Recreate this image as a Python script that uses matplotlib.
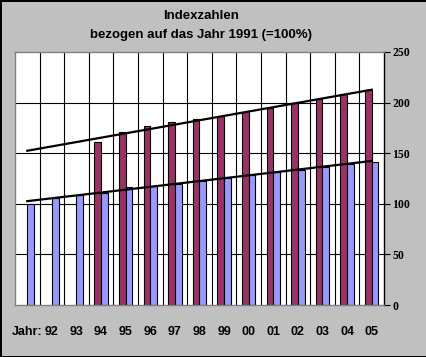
import numpy as np
import matplotlib
matplotlib.use("Agg")
import matplotlib.pyplot as plt

# Daten (1991 = 100)
jahre = ["Jahr:", "92", "93", "94", "95", "96", "97", "98", "99", "00", "01", "02", "03", "04", "05"]
reihe_blau = [100, 105.4, 108.7, 111, 116.3, 117.6, 119.6, 122.8, 125.5, 128.5, 131, 133.4, 136.7, 139.3, 141.3]
reihe_rot = [np.nan, np.nan, np.nan, 160.8, 170.6, 176.6, 180.5, 183.5, 186.4, 191, 195, 199.3, 203.6, 208.5, 212.5]
y_ticks = [0, 50, 100, 150, 200, 250]

grau = "#C0C0C0"
blau = "#9999FF"
rot = "#993366"

fig = plt.figure(figsize=(4.27, 3.57), dpi=100)
fig.patch.set_facecolor(grau)
fig.patch.set_edgecolor("black")
fig.patch.set_linewidth(2)

ax = fig.add_axes([15 / 427, 1 - 305 / 357, 369 / 427, 253 / 357])
ax.set_facecolor("white")

x = np.arange(len(jahre))
breite = 0.27

# Gitterlinien
for g in y_ticks[1:-1]:
    ax.axhline(g, color="black", lw=0.8, zorder=1)
for k in range(1, len(jahre)):
    ax.axvline(k - 0.5, color="black", lw=0.8, zorder=1)

ax.bar(x - breite, reihe_rot, width=breite, align="edge", color=rot,
       edgecolor="black", linewidth=0.8, zorder=2)
ax.bar(x, reihe_blau, width=breite, align="edge", color=blau,
       edgecolor="black", linewidth=0.8, zorder=2)

# lineare Trendlinien
xb = x.astype(float)
p_blau = np.polyfit(xb, reihe_blau, 1)
rot_arr = np.array(reihe_rot)
ok = ~np.isnan(rot_arr)
p_rot = np.polyfit(xb[ok], rot_arr[ok], 1)
ax.plot(xb, np.polyval(p_blau, xb), color="black", lw=1.6, zorder=3)
ax.plot(xb, np.polyval(p_rot, xb), color="black", lw=1.6, zorder=3)

ax.set_xlim(-0.5, len(jahre) - 0.5)
ax.set_ylim(0, 250)
ax.set_yticks(y_ticks)
ax.yaxis.tick_right()
ax.tick_params(axis="y", direction="out", length=4, width=0.8, pad=2, colors="black")
for lab in ax.get_yticklabels():
    lab.set_fontfamily("Liberation Serif")
    lab.set_fontweight("bold")
    lab.set_fontsize(8.5)

ax.set_xticks(x)
ax.set_xticklabels(jahre, fontfamily="Liberation Sans", fontweight="bold", fontsize=9)
ax.tick_params(axis="x", length=0, pad=15)

for s in ["left", "top", "bottom"]:
    ax.spines[s].set_color("#808080")
    ax.spines[s].set_linewidth(1)
ax.spines["right"].set_color("black")
ax.spines["right"].set_linewidth(1)

fig.text(201 / 427, 1 - 16 / 357, "Indexzahlen", ha="center", va="center",
         fontfamily="Liberation Sans", fontweight="bold", fontsize=9.5)
fig.text(201 / 427, 1 - 35 / 357, "bezogen auf das Jahr 1991 (=100%)", ha="center", va="center",
         fontfamily="Liberation Sans", fontweight="bold", fontsize=9.5)

fig.savefig("out.png", dpi=100, facecolor=grau, edgecolor="black")
